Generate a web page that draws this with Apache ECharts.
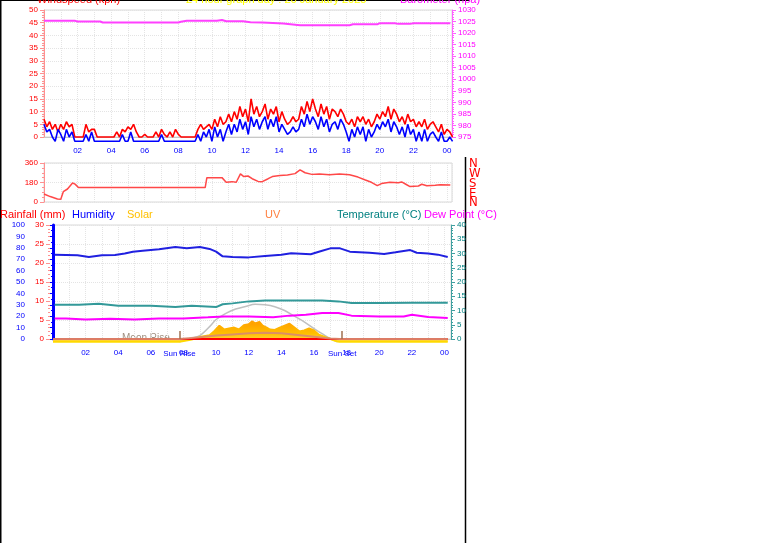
<!DOCTYPE html>
<html><head><meta charset="utf-8">
<script src="https://cdn.jsdelivr.net/npm/echarts@6.0.0/dist/echarts.min.js"></script>
<style>html,body{margin:0;padding:0;background:#fff}#c{width:761px;height:543px}</style>
</head><body><div id="c"></div>
<script>
// ---------- DATA ----------
const windTimes = [
"00:00","00:10","00:20","00:30","00:40","00:50","01:00","01:10","01:20","01:30","01:40","01:50",
"02:00","02:10","02:20","02:30","02:40","02:50","03:00","03:10","03:20","03:30","03:40","03:50",
"04:00","04:10","04:20","04:30","04:40","04:50","05:00","05:10","05:20","05:30","05:40","05:50",
"06:00","06:10","06:20","06:30","06:40","06:50","07:00","07:10","07:20","07:30","07:40","07:50",
"08:00","08:10","08:20","08:30","08:40","08:50","09:00","09:10","09:20","09:30","09:40","09:50",
"10:00","10:10","10:20","10:30","10:40","10:50","11:00","11:10","11:20","11:30","11:40","11:50",
"12:00","12:10","12:20","12:30","12:40","12:50","13:00","13:10","13:20","13:30","13:40","13:50",
"14:00","14:10","14:20","14:30","14:40","14:50","15:00","15:10","15:20","15:30","15:40","15:50",
"16:00","16:10","16:20","16:30","16:40","16:50","17:00","17:10","17:20","17:30","17:40","17:50",
"18:00","18:10","18:20","18:30","18:40","18:50","19:00","19:10","19:20","19:30","19:40","19:50",
"20:00","20:10","20:20","20:30","20:40","20:50","21:00","21:10","21:20","21:30","21:40","21:50",
"22:00","22:10","22:20","22:30","22:40","22:50","23:00","23:10","23:20","23:30","23:40","23:50",
"24:00","24:10","24:20"];
const windGust = [
7,4,6,3,5,2, 5,3,6,4,5,0, 0,0,0, 5,2,3,3, 0,0,0,0,0,0,0, 2,0,3,2,4,3,5,2, 0,0,1,0,0,0,
2,0,3,1,0,2,0,3, 1,0,0,0,0,0,0, 3,5,3,4,5,3, 7,4,8,5,6,9,6, 10,7,12,8,11,6,15,9,12,8,
10,13,7,11,9,12,6,10, 7,5,6,8,6,7, 12,9,14,10,15,11,8,13,9,12,7,11, 10,8,11,9,6, 5,7,4,8,
6,8,5,7,4,6,9,7, 10,8,12,7,11,9,6, 8,5,9,6,7,4, 6,4,7,3,5,6, 4,2,5,1,3,2,0];
const windAvg = [
5,2,3,0,-1.7,3, 1,-1.7,3,0,2,-1.7, -1.7,-1.7,-1.7, 1,-1.7,2,-1.7, -1.7,-1.7,-1.7,-1.7,-1.7,-1.7,-1.7,
-1.7,-1.7,1,-1.7,-1.7,2,-1.7,-1.7, -1.7,-1.7,-1.7,-1.7,-1.7,-1.7, -1.7,-1.7,1,-1.7,-1.7,-1.7,-1.7,-1.7,
-1.7,-1.7,-1.7,-1.7,-1.7,-1.7,-1.7, 1,-1.7,2,0,3,-1.7, 4,0,3,-1.7,2,5,1, 5,2,7,3,6,1,8,4,7,3,
6,8,3,7,4,8,2,5, 3,1,2,4,2,3, 7,4,9,5,8,6,3,8,4,7,2,5, 6,3,7,5,2, -1.7,3,0,4,
1,4,-1.7,3,0,2,5,3, 6,4,7,2,6,4,1, 4,0,5,1,3,-1.7, 2,-1.7,3,-1.7,1,2, 0,-1.7,2,-1.7,-1.7,0,-1.7];
const baroHours = [0,1.86,2.0,3.35,3.5,8.0,8.15,8.5,10.3,10.6,10.85,11.85,12.3,13.0,14.25,15.25,18.2,18.4,19.85,20.0,20.9,21.1,21.8,22.0,24.2];
const baroValues = [1025.3,1025.3,1025.0,1025.0,1024.6,1024.6,1024.9,1025.3,1025.3,1025.7,1025.1,1025.1,1024.7,1024.6,1024.2,1023.4,1023.4,1023.8,1023.8,1024.3,1024.3,1024.0,1024.0,1024.3,1024.3];
const dirHours = [0,0.37,0.8,1.0,1.15,1.4,1.7,1.85,2.05,9.6,9.7,10.6,10.85,11.2,11.45,11.7,11.9,12.15,12.4,12.75,13.0,13.35,13.6,14.05,14.5,14.95,15.25,15.55,15.95,16.4,17.0,17.6,18.2,18.7,19.1,19.5,19.85,20.1,20.6,21.1,21.3,21.55,21.8,22.3,22.5,22.8,23.3,23.6,24.2];
const dirValues = [74,50,28,25,95,120,175,165,133,133,225,225,183,188,182,260,235,240,215,190,188,215,235,245,250,262,296,270,255,258,252,258,252,230,205,182,151,170,182,178,185,164,142,148,164,150,155,160,156];
const humHours = [0.1,1.5,2.2,3.0,3.8,4.4,4.9,5.5,6.5,7.5,8.2,9.0,9.6,10.0,10.4,11.0,12.0,13.0,14.0,14.6,15.8,16.4,17.0,17.6,18.2,19.4,20.3,21.0,21.9,22.3,23.0,23.6,24.2];
const humValues = [74,73.5,72,73.5,73.7,75,76.6,77.5,78.7,80.7,79.6,80.7,79,76.6,72.5,72,71.6,72.8,74,75.2,74.3,77,79.5,79.5,76.6,75.7,74.6,76,78,75.7,75,74,72];
const tempHours = [0.1,1.6,2.8,4.0,6.0,7.5,8.5,10.0,10.4,11.0,12.0,13.0,15.0,16.5,17.5,18.3,20.0,22.0,24.2];
const tempValues = [12,12,12.4,11.7,11.7,11.2,11.7,11.2,12.2,12.5,13.2,13.5,13.5,13.5,13.2,12.6,12.6,12.7,12.7];
const dewHours = [0.1,0.8,2.0,3.5,5.0,6.5,8.0,9.5,10.5,12.0,13.5,14.5,15.5,16.5,17.5,18.3,20.0,21.5,22.0,23.0,24.2];
const dewValues = [7.2,7.2,6.8,7.1,6.8,7.2,7.2,7.6,7.9,7.9,7.6,8.2,8.5,9.1,9.1,8.2,7.9,7.9,8.5,7.7,7.4];
const rainHours = [0,24.2];
const rainValues = [0,0];
const solarHours = [0,7.75,8.5,9.0,9.6,9.9,10.2,10.5,10.8,11.1,11.4,11.7,12.0,12.2,12.4,12.65,12.85,13.1,13.3,13.6,13.9,14.2,14.5,14.8,15.1,15.4,15.7,16.0,16.3,16.7,17.1,17.4,17.55,24.2];
const solarValues = [0,0,25,50,70,115,170,130,140,150,130,175,185,215,195,210,170,150,130,125,150,170,190,150,110,120,140,120,75,50,25,5,0,0];
const solarMaxHours = [7.75,8.4,9.0,9.6,10.0,10.6,11.2,11.8,12.4,13.0,13.6,14.2,14.8,15.4,16.0,16.6,17.1,17.45];
const solarMaxValues = [0,35,65,160,235,300,345,372,395,390,370,330,270,210,140,75,25,0];
const uvHours = [0,7.75,9.0,10.0,11.0,12.0,13.0,14.0,15.0,16.0,17.0,17.6,24.2];
const uvValues = [0,0,0.3,0.6,0.8,1.0,1.1,1.0,0.7,0.4,0.1,0,0];
const sunRise = 7.75, sunSet = 17.73;
const hourTicks = ["02","04","06","08","10","12","14","16","18","20","22","00"];
const compassDeg = [0,90,180,270,360];
const compassLabels = ['N','E','S','W','N'];

// ---------- BUILD ----------
const toH = s => +s.slice(0,2) + (+s.slice(3,5))/60;
const pairs = (xs, ys) => xs.map((x,i)=>[x, ys[i]]);
const hourFmt = v => (v>0 && v%2===0) ? hourTicks[v/2-1] : '';
const FONT = 'Liberation Sans, Arial, sans-serif';
const NARROW = 'Liberation Sans Narrow, DejaVu Sans Condensed, sans-serif';
const grid = '#d8d8d8';
const splitDot = {show:true, lineStyle:{color:'#e4e4e4', type:'dotted', width:1}};

const chart = echarts.init(document.getElementById('c'), null, {renderer:'canvas'});
const option = {
  animation:false,
  backgroundColor:'#fff',
  textStyle:{fontFamily:FONT},
  grid:[
    {left:44, top:10, width:408, height:127, show:true, borderColor:grid, borderWidth:1},
    {left:44, top:163, width:408, height:39, show:true, borderColor:grid, borderWidth:1},
    {left:53, top:225, width:398, height:114, show:true, borderColor:grid, borderWidth:1}
  ],
  xAxis:[
    {gridIndex:0, type:'value', min:0, max:24.3, interval:1, offset:4,
     axisLine:{show:true, lineStyle:{color:'#c8c8c8'}}, axisTick:{show:false},
     axisLabel:{formatter:hourFmt, color:'#0000ff', fontSize:8, margin:6, showMinLabel:false, showMaxLabel:false},
     splitLine:splitDot},
    {gridIndex:1, type:'value', min:0, max:24.3, interval:1,
     axisLine:{show:false}, axisTick:{show:false}, axisLabel:{show:false}, splitLine:splitDot},
    {gridIndex:2, type:'value', min:0, max:24.4, interval:1, offset:4,
     axisLine:{show:true, lineStyle:{color:'#c8c8c8'}}, axisTick:{show:false},
     axisLabel:{formatter:hourFmt, color:'#0000ff', fontSize:8, margin:6, showMinLabel:false, showMaxLabel:false},
     splitLine:splitDot}
  ],
  yAxis:[
    {gridIndex:0, type:'value', min:0, max:50, interval:5, position:'left',
     axisLine:{show:true, lineStyle:{color:'#ff9090'}}, axisTick:{show:true, length:4, lineStyle:{color:'#ff9090'}},
     minorTick:{show:true, splitNumber:5, length:2, lineStyle:{color:'#ff9090'}},
     axisLabel:{color:'#ff0000', fontSize:8, margin:6}, splitLine:splitDot},
    {gridIndex:0, type:'value', min:975, max:1030, interval:5, position:'right',
     axisLine:{show:true, lineStyle:{color:'#ff60ff'}}, axisTick:{show:true, length:4, lineStyle:{color:'#ff60ff'}},
     minorTick:{show:true, splitNumber:5, length:2, lineStyle:{color:'#ff60ff'}},
     axisLabel:{color:'#ff00ff', fontSize:8, margin:6, formatter:v=>String(v)}, splitLine:{show:false}},
    {gridIndex:1, type:'value', min:0, max:360, interval:180, position:'left',
     axisLine:{show:true, lineStyle:{color:'#ff9090'}}, axisTick:{show:true, length:4, lineStyle:{color:'#ff9090'}},
     minorTick:{show:true, splitNumber:4, length:2, lineStyle:{color:'#ff9090'}},
     axisLabel:{color:'#ff0000', fontSize:8, margin:6}, splitLine:splitDot},
    {gridIndex:1, type:'value', min:0, max:360, interval:90, position:'right', show:false},
    {gridIndex:2, type:'value', min:0, max:100, interval:10, position:'left', offset:23,
     axisLine:{show:true, lineStyle:{color:'#0000ff', width:3}}, axisTick:{show:true, length:3, lineStyle:{color:'#0000ff'}},
     minorTick:{show:true, splitNumber:2, length:2, lineStyle:{color:'#0000ff'}},
     axisLabel:{color:'#0000ff', fontSize:8, margin:5}, splitLine:{show:false}},
    {gridIndex:2, type:'value', min:0, max:30, interval:5, position:'left', offset:3,
     axisLine:{show:false}, axisTick:{show:true, length:4, lineStyle:{color:'#ff9090'}},
     minorTick:{show:true, splitNumber:5, length:2, lineStyle:{color:'#ff9090'}},
     axisLabel:{color:'#ff0000', fontSize:8, margin:6}, splitLine:splitDot},
    {gridIndex:2, type:'value', min:0, max:40, interval:5, position:'right',
     axisLine:{show:true, lineStyle:{color:'#40a0a0'}}, axisTick:{show:true, length:4, lineStyle:{color:'#40a0a0'}},
     minorTick:{show:true, splitNumber:5, length:2, lineStyle:{color:'#40a0a0'}},
     axisLabel:{color:'#008080', fontSize:8, margin:6}, splitLine:{show:false}},
    {gridIndex:2, type:'value', min:30, max:1230, show:false},
    {gridIndex:2, type:'value', min:0, max:20, show:false}
  ],
  series:[
    {type:'line', xAxisIndex:0, yAxisIndex:1, data:pairs(baroHours, baroValues), showSymbol:false,
     lineStyle:{color:'#ff40ff', width:2}},
    {type:'line', xAxisIndex:0, yAxisIndex:0, data:pairs(windTimes.map(toH), windGust), showSymbol:false,
     lineStyle:{color:'#ff0000', width:1.6}, clip:false},
    {type:'line', xAxisIndex:0, yAxisIndex:0, data:pairs(windTimes.map(toH), windAvg), showSymbol:false,
     lineStyle:{color:'#0000ff', width:1.6}, clip:false},
    {type:'line', xAxisIndex:1, yAxisIndex:2, data:pairs(dirHours, dirValues), showSymbol:false,
     lineStyle:{color:'#ff4848', width:1.5}},
    {type:'line', xAxisIndex:2, yAxisIndex:7, data:pairs(solarMaxHours, solarMaxValues), showSymbol:false, smooth:0.3,
     lineStyle:{color:'#c0c0c0', width:1.5}, clip:false},
    {type:'line', xAxisIndex:2, yAxisIndex:7, data:pairs(solarHours, solarValues), showSymbol:false, clip:false,
     lineStyle:{width:2, color:new echarts.graphic.LinearGradient(0,0,0,1,[{offset:0,color:'#ff9900'},{offset:1,color:'#ffe000'}])},
     areaStyle:{opacity:1, color:new echarts.graphic.LinearGradient(0,0,0,1,[{offset:0,color:'#ff9a00'},{offset:0.6,color:'#ffc000'},{offset:1,color:'#ffd84a'}])}},
    {type:'line', xAxisIndex:2, yAxisIndex:5, data:pairs(rainHours, rainValues), showSymbol:false,
     lineStyle:{color:'#ff0000', width:2}},
    {type:'line', xAxisIndex:2, yAxisIndex:8, data:pairs(uvHours, uvValues), showSymbol:false,
     lineStyle:{color:'#d88a70', width:2, opacity:0.9}},
    {type:'line', xAxisIndex:2, yAxisIndex:4, data:pairs(humHours, humValues), showSymbol:false,
     lineStyle:{color:'#2020e0', width:2}},
    {type:'line', xAxisIndex:2, yAxisIndex:6, data:pairs(tempHours, tempValues), showSymbol:false,
     lineStyle:{color:'#339999', width:2},
     markLine:{symbol:'none', silent:true, lineStyle:{color:'#a07050', width:1.5, type:'solid'},
       label:{show:true, position:'start', formatter:'{b}', color:'#0000ff', fontSize:8, distance:11},
       data:[[{coord:[sunRise,0], name:'Sun Rise'},{coord:[sunRise,2.8]}],
             [{coord:[sunSet,0], name:'Sun Set'},{coord:[sunSet,2.8]}]]}},
    {type:'line', xAxisIndex:2, yAxisIndex:6, data:pairs(dewHours, dewValues), showSymbol:false,
     lineStyle:{color:'#ff00ff', width:2}}
  ],
  graphic:[
    {type:'line', shape:{x1:0.5,y1:0,x2:0.5,y2:543}, style:{stroke:'#000', lineWidth:2}},
    {type:'line', shape:{x1:0,y1:0.5,x2:470,y2:0.5}, style:{stroke:'#000', lineWidth:1}},
    {type:'line', shape:{x1:465.5,y1:157,x2:465.5,y2:543}, style:{stroke:'#000', lineWidth:1.5}},
    {type:'text', left:37, top:-6, style:{text:'Windspeed (kph)', fill:'#ff0000', font:'11px '+FONT}},
    {type:'text', left:186, top:-6, style:{text:'24 hour graph day : 26 January 2025', fill:'#ffff00', font:'11px '+FONT}},
    {type:'text', left:400, top:-6, style:{text:'Barometer (hpa)', fill:'#ff00ff', font:'11px '+FONT}},
    {type:'text', left:0, top:209, style:{text:'Rainfall (mm)', fill:'#ff0000', font:'11px '+FONT}},
    {type:'text', left:72, top:209, style:{text:'Humidity', fill:'#0000ff', font:'11px '+FONT}},
    {type:'text', left:127, top:209, style:{text:'Solar', fill:'#ffc000', font:'11px '+FONT}},
    {type:'text', left:265, top:209, style:{text:'UV', fill:'#ff8040', font:'11px '+FONT}},
    {type:'text', left:337, top:209, style:{text:'Temperature (°C)', fill:'#008080', font:'11px '+FONT}},
    {type:'text', left:424, top:209, style:{text:'Dew Point (°C)', fill:'#ff00ff', font:'11px '+FONT}},
    {type:'text', left:122, top:333, style:{text:'Moon Rise', fill:'#a09080', font:'10px '+FONT}}
  ]
};
chart.setOption(option);

// compass letters placed through the wind-direction axis scale
const compassGraphics = compassDeg.map((d,i)=>{
  const y = chart.convertToPixel({yAxisIndex:3}, d);
  return {type:'text', id:'cmp'+i, x:469, y:y+1, style:{text:compassLabels[i], fill:'#ff0000',
    font:'13px '+NARROW, textVerticalAlign:'middle', verticalAlign:'middle'}};
});
chart.setOption({graphic:compassGraphics});
</script></body></html>
